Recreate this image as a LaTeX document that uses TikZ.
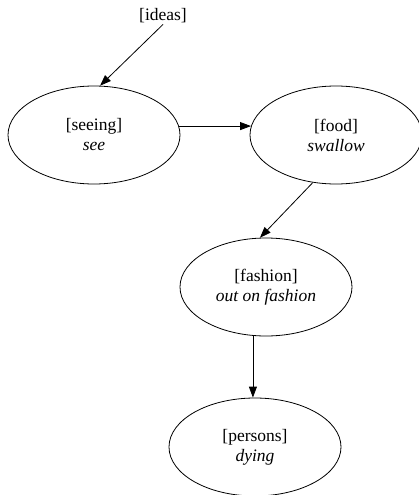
\documentclass[tikz,border=0pt]{standalone}
\usepackage{fontspec}
\setmainfont{Liberation Serif}
\usetikzlibrary{shapes.geometric}
\usetikzlibrary{arrows.meta}

\begin{document}
\begin{tikzpicture}[x=1pt,y=-1pt,
  concept/.style={ellipse,draw,line width=0.8pt,minimum width=172pt,minimum height=98pt,inner sep=0pt,align=center,font=\fontsize{17.5}{20}\selectfont},
  label/.style={inner sep=1pt,font=\fontsize{17.5}{20}\selectfont},
  edge/.style={line width=0.8pt,-{Triangle[length=11pt,width=8pt]}}]
\useasboundingbox (0,0) rectangle (418,495);

\node[label] (ideas) at (163,16) {[ideas]};

\node[concept] (seeing) at (94,135) {[seeing]\\\textit{see}};
\node[concept] (food) at (336,135) {[food]\\\textit{swallow}};

\node[concept] (fashion) at (266,287) {[fashion]\\\textit{out on fashion}};

\node[concept] (persons) at (255,447) {[persons]\\\textit{dying}};

\draw[edge] (ideas.south) -- (seeing.83);
\draw[edge] (seeing.6) -- (food.174);
\draw[edge] (food.244) -- (fashion.97);
\draw[edge] (fashion.255) -- (fashion.255 |- persons.north);

\end{tikzpicture}
\end{document}
